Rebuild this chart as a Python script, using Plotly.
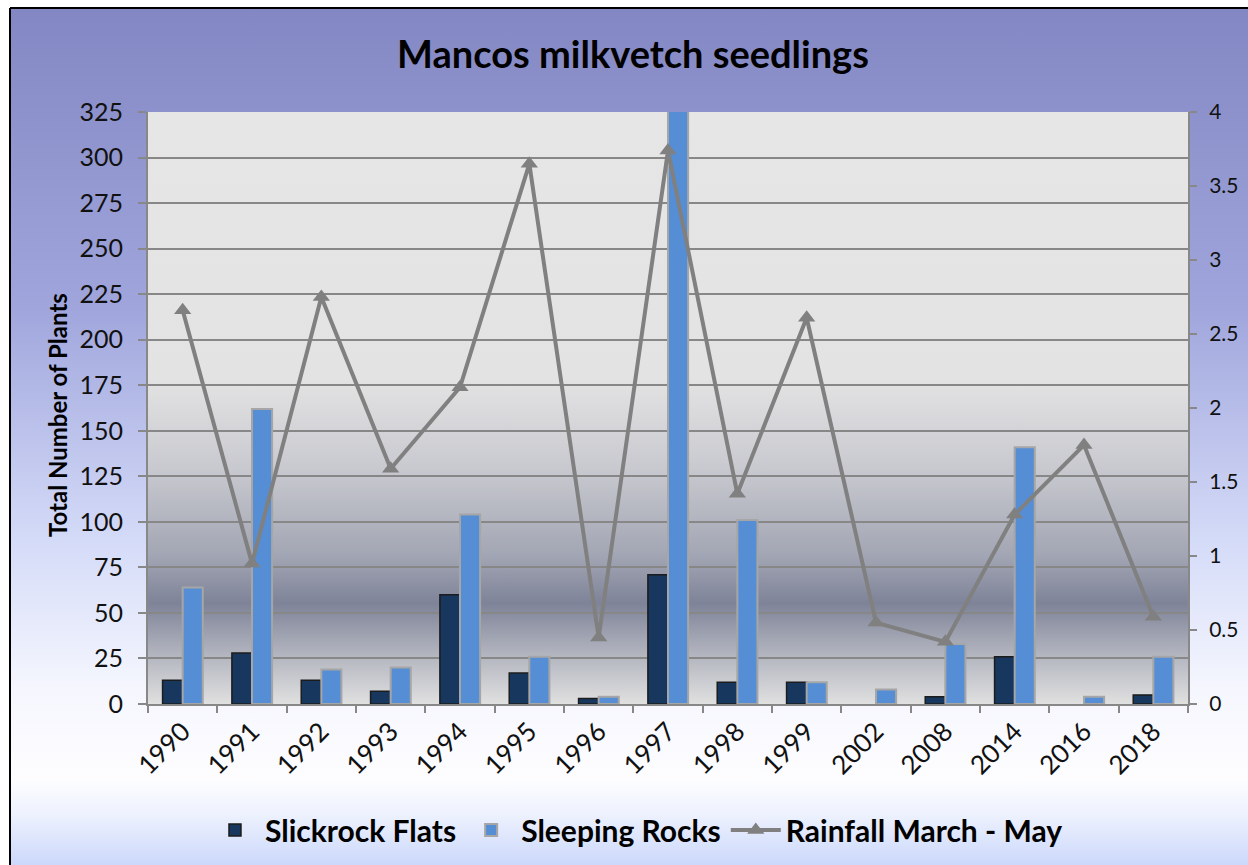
import base64
import plotly.graph_objects as go

years = ["1990", "1991", "1992", "1993", "1994", "1995", "1996", "1997",
         "1998", "1999", "2002", "2008", "2014", "2016", "2018"]
slickrock = [13, 28, 13, 7, 60, 17, 3, 71, 12, 12, 0, 4, 26, 0, 5]
sleeping = [64, 162, 19, 20, 104, 26, 4, 340, 101, 12, 8, 33, 141, 4, 26]
rainfall = [2.66, 0.95, 2.75, 1.59, 2.14, 3.65, 0.45, 3.74, 1.42, 2.61,
            0.55, 0.42, 1.28, 1.75, 0.59]
left_ticks = list(range(0, 326, 25))
right_ticks = [0, 0.5, 1, 1.5, 2, 2.5, 3, 3.5, 4]

W, H = 1248, 865
L, R, T, B = 148, 60, 112, 161
PW, PH = W - L - R, H - T - B


def px_x(p):
    return (p - L) / PW


def px_y(p):
    return (H - B - p) / PH


def grad_uri(stops):
    s = "".join(f'<stop offset="{o}" stop-color="{c}"/>' for o, c in stops)
    svg = ('<svg xmlns="http://www.w3.org/2000/svg" width="100" height="100" '
           'viewBox="0 0 100 100" preserveAspectRatio="none">'
           f'<defs><linearGradient id="g" x1="0" y1="0" x2="0" y2="1">{s}</linearGradient></defs>'
           '<rect x="0" y="0" width="100" height="100" fill="url(#g)"/></svg>')
    return "data:image/svg+xml;base64," + base64.b64encode(svg.encode()).decode()


paper_grad = grad_uri([(0, "#8387c3"), (0.35, "#a0a6dc"), (0.62, "#d4dbf8"),
                       (0.8, "#f6f7fe"), (0.9, "#fdfdff"), (0.94, "#eef2fe"),
                       (1, "#ccd8fb")])
plot_grad = grad_uri([(0, "#e6e6e6"), (0.45, "#e3e3e3"), (0.6, "#c9cad0"),
                      (0.75, "#a2a5b3"), (0.83, "#7e8398"), (0.9, "#a9acb8"),
                      (1, "#e0e0e0")])

fig = go.Figure()
fig.add_trace(go.Bar(x=years, y=slickrock, name="Slickrock Flats",
                     marker=dict(color="#17375e",
                                 line=dict(color="#1c1c1c",
                                           width=[1.5 if v else 0 for v in slickrock]))))
fig.add_trace(go.Bar(x=years, y=sleeping, name="Sleeping Rocks",
                     marker=dict(color="#558ed5",
                                 line=dict(color="#a6a6a6",
                                           width=[2 if v else 0 for v in sleeping]))))
fig.add_trace(go.Scatter(x=years, y=rainfall, name="Rainfall March - May", yaxis="y2",
                         mode="lines+markers",
                         line=dict(color="#808080", width=4),
                         marker=dict(symbol="triangle-up", size=15, color="#808080")))

fig.update_layout(
    width=W, height=H,
    margin=dict(l=L, r=R, t=T, b=B, autoexpand=False),
    paper_bgcolor="white",
    plot_bgcolor="rgba(0,0,0,0)",
    barmode="group", bargap=0.42, bargroupgap=0,
    font=dict(family="Lato", color="#111111"),
    title=dict(text="<b>Mancos milkvetch seedlings</b>", x=633 / W, xref="container",
               xanchor="center", y=1 - 55 / H, yref="container", yanchor="middle",
               font=dict(size=38, color="black", family="Lato")),
    xaxis=dict(type="category", range=[-0.5, len(years) - 0.5], tickangle=-45,
               tickfont=dict(size=26),
               ticks="outside", ticklen=7, tickcolor="#888888", tickwidth=2,
               tickson="boundaries", showline=True, linecolor="#888888", linewidth=2,
               showgrid=False, automargin=False),
    yaxis=dict(range=[0, 325], tickvals=left_ticks, tickfont=dict(size=25),
               ticks="outside", ticklen=8, tickcolor="#888888", tickwidth=2,
               ticklabelstandoff=10,
               showline=True, linecolor="#888888", linewidth=2,
               showgrid=True, gridcolor="#878787", gridwidth=2, zeroline=False,
               automargin=False),
    yaxis2=dict(range=[0, 4], tickvals=right_ticks, overlaying="y", side="right",
                tickfont=dict(size=21), ticks="outside", ticklen=7,
                ticklabelstandoff=8,
                tickcolor="#888888", tickwidth=2, showline=True, linecolor="#888888",
                linewidth=2, showgrid=False, zeroline=False, automargin=False),
    legend=dict(orientation="h", x=0.51, xanchor="center", xref="container",
                y=1 - 830 / H, yanchor="middle", yref="container",
                font=dict(size=30, color="black", family="Lato", weight="bold"),
                bgcolor="rgba(0,0,0,0)", itemwidth=50, tracegroupgap=0),
    showlegend=True,
    images=[
        dict(source=paper_grad, xref="paper", yref="paper",
             x=px_x(11), y=px_y(9), sizex=px_x(W) - px_x(11), sizey=px_y(9) - px_y(H),
             xanchor="left", yanchor="top", sizing="stretch", layer="below"),
        dict(source=plot_grad, xref="paper", yref="paper",
             x=0, y=1, sizex=1, sizey=1,
             xanchor="left", yanchor="top", sizing="stretch", layer="below"),
    ],
    shapes=[
        dict(type="line", xref="paper", yref="paper", x0=px_x(10), x1=px_x(W + 5),
             y0=px_y(8), y1=px_y(8), line=dict(color="black", width=2)),
        dict(type="line", xref="paper", yref="paper", x0=px_x(10), x1=px_x(10),
             y0=px_y(8), y1=px_y(H + 5), line=dict(color="black", width=2)),
    ],
    annotations=[
        dict(text="<b>Total Number of Plants</b>", textangle=-90, xref="paper", yref="paper",
             x=px_x(57), y=px_y(415), xanchor="center", yanchor="middle", showarrow=False,
             font=dict(size=24, color="black", family="Lato")),
    ],
)

fig.write_html("out.html")
